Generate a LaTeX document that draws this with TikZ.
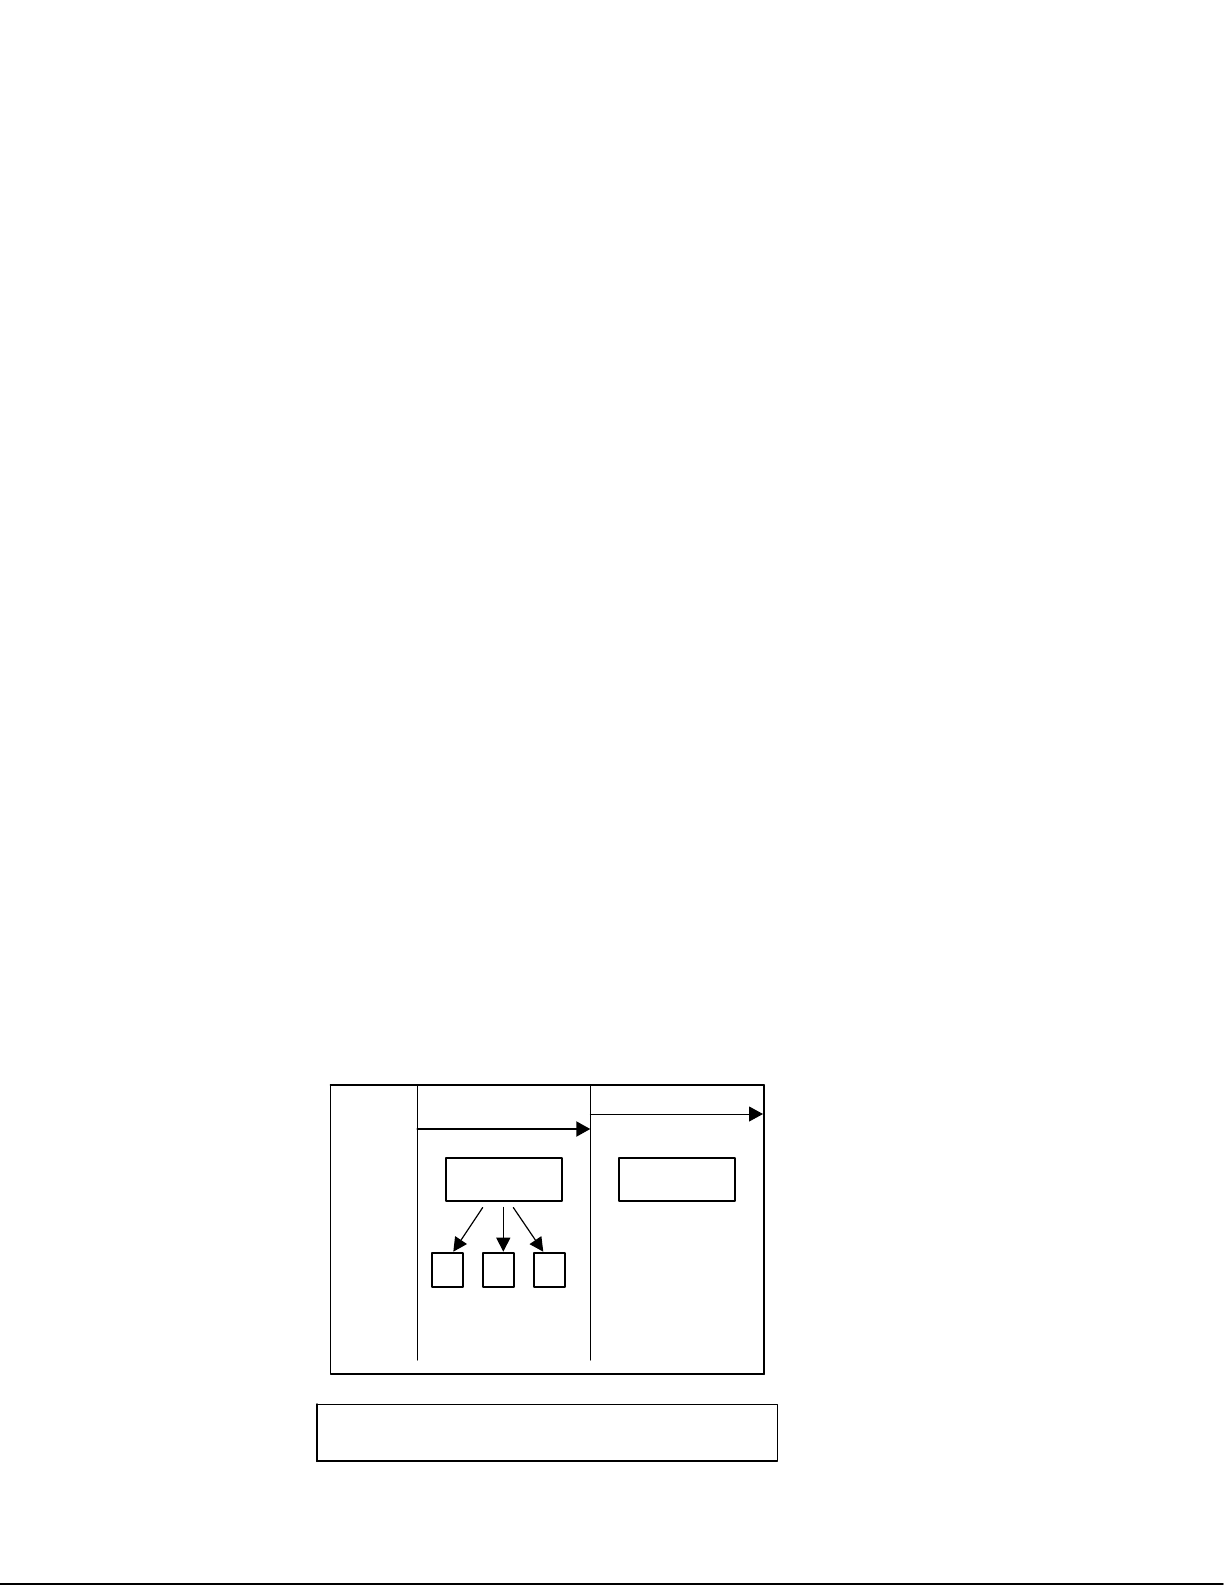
\documentclass[tikz,border=0pt]{standalone}
\usetikzlibrary{arrows.meta}
\begin{document}
\begin{tikzpicture}[line cap=round,line join=round,x=.5pt,y=-.5pt,font=\footnotesize,
    >={Triangle[length=7pt,width=7.5pt]},
    box/.style={draw,line width=1pt,inner sep=0pt,minimum width=58pt,minimum height=21.8pt},
    kbox/.style={draw,line width=1pt,inner sep=0pt,minimum width=15.8pt,minimum height=17.3pt}]
    \useasboundingbox (0,0) rectangle (1225,1585);
    % khung ngoai
    \coordinate (tl) at (330.7,1085);
    \coordinate (br) at (764,1374);
    \draw[line width=.6pt] (tl) rectangle (br);
    \draw[line width=1.1pt] (tl) -- (tl-|br) -- (br);
    % hai cot
    \coordinate (c1) at (417.3,1085);
    \coordinate (c2) at (590.3,1085);
    \draw[line width=.5pt] (c1) -- (417.3,1360) (c2) -- (590.3,1360);
    \draw[->,line width=1pt] (417.3,1129) -- (590.3,1129);
    \draw[->,line width=.5pt] (590.3,1114) -- (763,1114);
    % cac hop
    \node[box] (plan) at (504.3,1179.5) {};
    \node[box] (goal) at (676.7,1179.5) {};
    \node[kbox] (k1) at (447.5,1270) {};
    \node[kbox] (k2) at (498.5,1270) {};
    \node[kbox] (k3) at (549.5,1270) {};
    \begin{scope}[>={Triangle[length=7pt,width=7pt]},line width=.6pt]
        \draw[->] ([xshift=-10.8pt,yshift=-2.6pt]plan.south) -- ([xshift=2.9pt]k1.north);
        \draw[->] ([xshift=-.5pt,yshift=-2.6pt]plan.south) -- ([xshift=2.4pt]k2.north);
        \draw[->] ([xshift=4.5pt,yshift=-2.6pt]plan.south) -- ([xshift=-3.1pt]k3.north);
    \end{scope}
    % hop duoi
    \coordinate (ntl) at (316.7,1404.3);
    \coordinate (nbr) at (777.7,1461);
    \draw[line width=.7pt] (ntl) rectangle (nbr);
    \draw[line width=1.2pt] (ntl) -- (ntl|-nbr);
    % duong cuoi trang
    \draw[line width=.8pt] (0,1584) -- (1223,1584);
\end{tikzpicture}
\end{document}
